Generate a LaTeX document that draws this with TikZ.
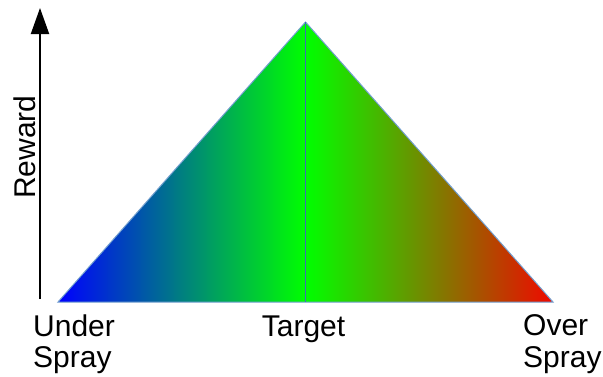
\documentclass[tikz,border=0pt]{standalone}
\usepackage{fontspec}
\setmainfont{Liberation Sans}
\usetikzlibrary{arrows.meta}
\definecolor{outl}{RGB}{114,159,207}
\definecolor{midl}{RGB}{60,110,185}
\definecolor{gblue}{RGB}{0,0,255}
\definecolor{ggreen}{RGB}{0,255,0}
\definecolor{gred}{RGB}{240,8,0}
\tikzset{
  lblfont/.style={inner sep=0pt, font=\fontsize{30}{31.5}\selectfont},
  lbl/.style={lblfont, align=left, anchor=north west},
  axisarrow/.style={line width=2pt, -{Triangle[length=26pt,width=18pt]}},
}
\begin{document}
\begin{tikzpicture}[x=1pt,y=-1pt]
\useasboundingbox (0,0) rectangle (603,376);
\coordinate (L) at (58,302);
\coordinate (T) at (305.5,22);
\coordinate (M) at (305.5,302);
\coordinate (R) at (553,302);
\shade[left color=gblue, right color=ggreen] (L) -- (T) -- (M) -- cycle;
\shade[left color=ggreen, right color=gred] (M) -- (T) -- (R) -- cycle;
\draw[outl, line width=1pt, line join=miter] (L) -- (T) -- (R) -- cycle;
\draw[midl, line width=1.6pt] (T) -- (M);
\coordinate (a0) at (40,299);
\coordinate (a1) at (40,8);
\draw[axisarrow] (a0) -- (a1);
\node[lblfont, rotate=90, anchor=base] (rew) at (35,147) {Reward};
\node[lbl] (under) at (33,314.5) {Under\\Spray};
\node[lbl] (over) at (523,314.5) {Over\\Spray};
\node[lblfont, anchor=base] (tgt) at (303.5,336) {Target};
\end{tikzpicture}
\end{document}
